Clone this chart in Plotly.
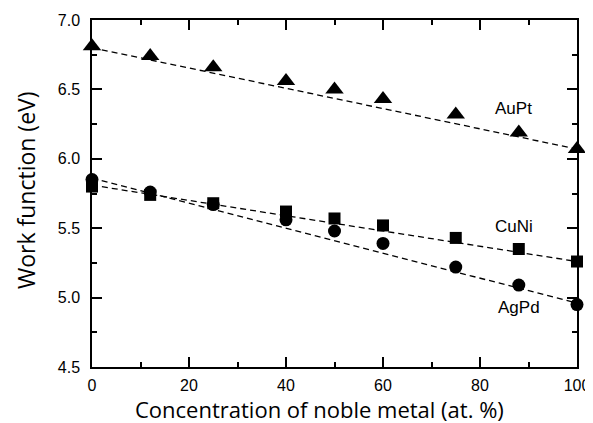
import plotly.graph_objects as go

conc = [0, 12, 25, 40, 50, 60, 75, 88, 100]
aupt = [6.81, 6.74, 6.66, 6.56, 6.50, 6.43, 6.32, 6.19, 6.07]
cuni = [5.80, 5.74, 5.68, 5.62, 5.57, 5.52, 5.43, 5.35, 5.26]
agpd = [5.85, 5.76, 5.67, 5.56, 5.48, 5.39, 5.22, 5.09, 4.95]

fit_x = [0, 100]
fit_aupt = [6.80, 6.07]
fit_cuni = [5.81, 5.26]
fit_agpd = [5.86, 4.96]

labels = ["AuPt", "CuNi", "AgPd"]
label_x = [87, 87, 88]
label_y = [6.36, 5.51, 4.93]

xticks = [0, 20, 40, 60, 80, 100]
yticks = [4.5, 5.0, 5.5, 6.0, 6.5, 7.0]

x_title = "Concentration of noble metal (at. %)"
y_title = "Work function (eV)"

TICKFONT = "Liberation Sans, Arial, sans-serif"
TITLEFONT = "Open Sans, sans-serif"

fig = go.Figure()
for fy in [fit_aupt, fit_cuni, fit_agpd]:
    fig.add_trace(go.Scatter(x=fit_x, y=fy, mode="lines",
                             line=dict(color="black", width=1.3, dash="6px,4px"),
                             showlegend=False, hoverinfo="skip"))
for ys, sym, sz in [(aupt, "triangle-up", 16), (cuni, "square", 12), (agpd, "circle", 13)]:
    fig.add_trace(go.Scatter(x=conc, y=ys, mode="markers",
                             marker=dict(symbol=sym, size=sz, color="black"),
                             showlegend=False, cliponaxis=False))

for t, lx, ly in zip(labels, label_x, label_y):
    fig.add_annotation(x=lx, y=ly, text=t, showarrow=False,
                       font=dict(family=TICKFONT, size=17, color="black"))

fig.add_annotation(x=0.47, y=-0.120, xref="paper", yref="paper", text=x_title,
                   showarrow=False, xanchor="center", yanchor="middle",
                   font=dict(family=TITLEFONT, size=22, color="black"))
fig.add_annotation(x=-0.136, y=0.51, xref="paper", yref="paper", text=y_title,
                   showarrow=False, xanchor="center", yanchor="middle", textangle=-90,
                   font=dict(family=TITLEFONT, size=23, color="black"))

axis_common = dict(showgrid=False, zeroline=False, showline=True, linecolor="black",
                   linewidth=1.5, ticks="inside", ticklen=10, tickwidth=1.5,
                   tickcolor="black", mirror="ticks", automargin=False,
                   tickfont=dict(family=TICKFONT, size=16, color="black"))

fig.update_xaxes(range=[0, 100], tickvals=xticks, ticktext=[str(v) for v in xticks],
                 ticklabelstandoff=3,
                 minor=dict(ticks="inside", ticklen=5, tickwidth=1.5, tickcolor="black", dtick=10, tick0=0),
                 **axis_common)
fig.update_yaxes(range=[4.5, 7.0], tickvals=yticks, ticktext=[f"{v:.1f}" for v in yticks],
                 ticklabelstandoff=7,
                 minor=dict(ticks="inside", ticklen=5, tickwidth=1.5, tickcolor="black", dtick=0.25, tick0=4.5),
                 **axis_common)

# page body adds an 8px offset; size the figure so it fills the 593x423 window exactly
fig.update_layout(width=585, height=415, margin=dict(l=84, r=16, t=12, b=56),
                  plot_bgcolor="white", paper_bgcolor="white")

fig.write_html("out.html")
